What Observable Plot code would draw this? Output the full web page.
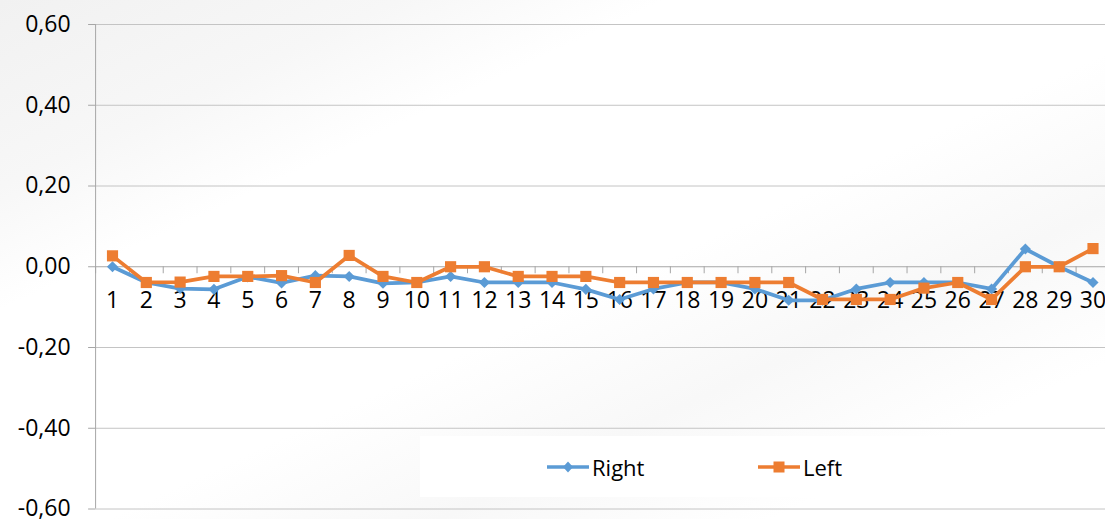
<!DOCTYPE html>
<html>
<head>
<meta charset="utf-8">
<script src="https://cdn.jsdelivr.net/npm/d3@7"></script>
<script src="https://cdn.jsdelivr.net/npm/@observablehq/plot@0.6"></script>
<style>
  html, body { margin: 0; padding: 0; }
  body {
    width: 1105px; height: 519px; overflow: hidden; position: relative;
    font-family: "Open Sans", sans-serif;
    background:
      linear-gradient(155deg, #f1f1f1 0%, #f7f7f7 18%, #ffffff 30%, #ffffff 55%, #f8f8f8 70%, #ffffff 85%);
  }
  #chart { position: absolute; left: 0; top: 0; }
  #chart svg { background: transparent !important; }
  #legend {
    position: absolute; left: 420px; top: 436px; width: 685px; height: 61px;
    background: #ffffff;
  }
  .item { position: absolute; top: 0; height: 61px; display: flex; align-items: center;
    font-size: 22px; color: #000; }
  .item svg { margin-right: 3px; }
</style>
</head>
<body>
<div id="chart"></div>
<div id="legend"></div>
<script>
const categories = d3.range(1, 31);
const rightValues = [0.000, -0.039, -0.054, -0.056, -0.025, -0.040, -0.022, -0.024, -0.041, -0.039,
                     -0.024, -0.039, -0.039, -0.039, -0.056, -0.081, -0.055, -0.039, -0.039, -0.055,
                     -0.083, -0.083, -0.055, -0.039, -0.039, -0.039, -0.055, 0.044, 0.000, -0.039];
const leftValues  = [0.027, -0.039, -0.038, -0.024, -0.024, -0.022, -0.039, 0.028, -0.024, -0.039,
                     0.000, 0.000, -0.024, -0.024, -0.024, -0.039, -0.039, -0.039, -0.039, -0.039,
                     -0.039, -0.081, -0.081, -0.081, -0.053, -0.039, -0.081, 0.000, 0.000, 0.045];
const yTicks = [-0.6, -0.4, -0.2, 0, 0.2, 0.4, 0.6];
const yTickLabels = ["-0,60", "-0,40", "-0,20", "0,00", "0,20", "0,40", "0,60"];
const seriesNames = ["Right", "Left"];
const colors = ["#5B9BD5", "#ED7D31"];

const right = categories.map((c, i) => ({x: c, y: rightValues[i]}));
const left = categories.map((c, i) => ({x: c, y: leftValues[i]}));
const boundaries = d3.range(0.5, 31, 1);
const yAxisTicks = yTicks.map((v, i) => ({v, label: yTickLabels[i]}));

const chart = Plot.plot({
  width: 1105,
  height: 519,
  margin: 0,
  style: {fontFamily: "Open Sans, sans-serif", background: "transparent"},
  x: {type: "linear", domain: [0.5, 30.5], range: [95.1, 1109.4], axis: null},
  y: {type: "linear", domain: [-0.6, 0.6], range: [508.5, 24], axis: null},
  marks: [
    Plot.ruleY(yTicks.filter(v => v !== 0), {y: d => d, x1: 0.5, x2: 30.5, stroke: "#c4c4c4", strokeWidth: 1}),
    Plot.ruleY(yTicks, {y: d => d, x1: 0.5, x2: 0.5, insetLeft: -7, stroke: "#a6a6a6", strokeWidth: 1}),
    Plot.ruleX([0.5], {x: d => d, y1: -0.6, y2: 0.6, stroke: "#a6a6a6", strokeWidth: 1}),
    Plot.ruleY([0], {y: d => d, x1: 0.5, x2: 30.5, stroke: "#a6a6a6", strokeWidth: 1}),
    Plot.ruleX(boundaries, {x: d => d, y1: 0, y2: 0, insetBottom: -7, stroke: "#a6a6a6", strokeWidth: 1}),
    Plot.text(yAxisTicks, {x: 0.5, y: "v", text: "label", dx: -25, textAnchor: "end", fontSize: 23, fill: "#000"}),
    Plot.text(categories, {x: d => d, y: 0, text: d => String(d), dy: 34, fontSize: 23, fill: "#000"}),
    Plot.line(right, {x: "x", y: "y", stroke: colors[0], strokeWidth: 3.75}),
    Plot.dot(right, {x: "x", y: "y", symbol: "diamond2", r: 5, fill: colors[0], stroke: "none"}),
    Plot.line(left, {x: "x", y: "y", stroke: colors[1], strokeWidth: 3.75}),
    Plot.dot(left, {x: "x", y: "y", symbol: "square", r: 6.3, fill: colors[1], stroke: "none"})
  ]
});
document.getElementById("chart").appendChild(chart);

const legend = document.getElementById("legend");
const positions = [127, 338];
seriesNames.forEach((name, i) => {
  const item = document.createElement("div");
  item.className = "item";
  item.style.left = positions[i] + "px";
  const sw = i === 0
    ? `<svg width="42" height="14"><line x1="0" y1="7" x2="42" y2="7" stroke="${colors[0]}" stroke-width="3.5"/><path d="M21,1.5 L26,7 L21,12.5 L16,7 Z" fill="${colors[0]}"/></svg>`
    : `<svg width="42" height="14"><line x1="0" y1="7" x2="42" y2="7" stroke="${colors[1]}" stroke-width="3.5"/><rect x="15.5" y="1.5" width="11" height="11" fill="${colors[1]}"/></svg>`;
  item.innerHTML = sw + `<span>${name}</span>`;
  legend.appendChild(item);
});
</script>
</body>
</html>
